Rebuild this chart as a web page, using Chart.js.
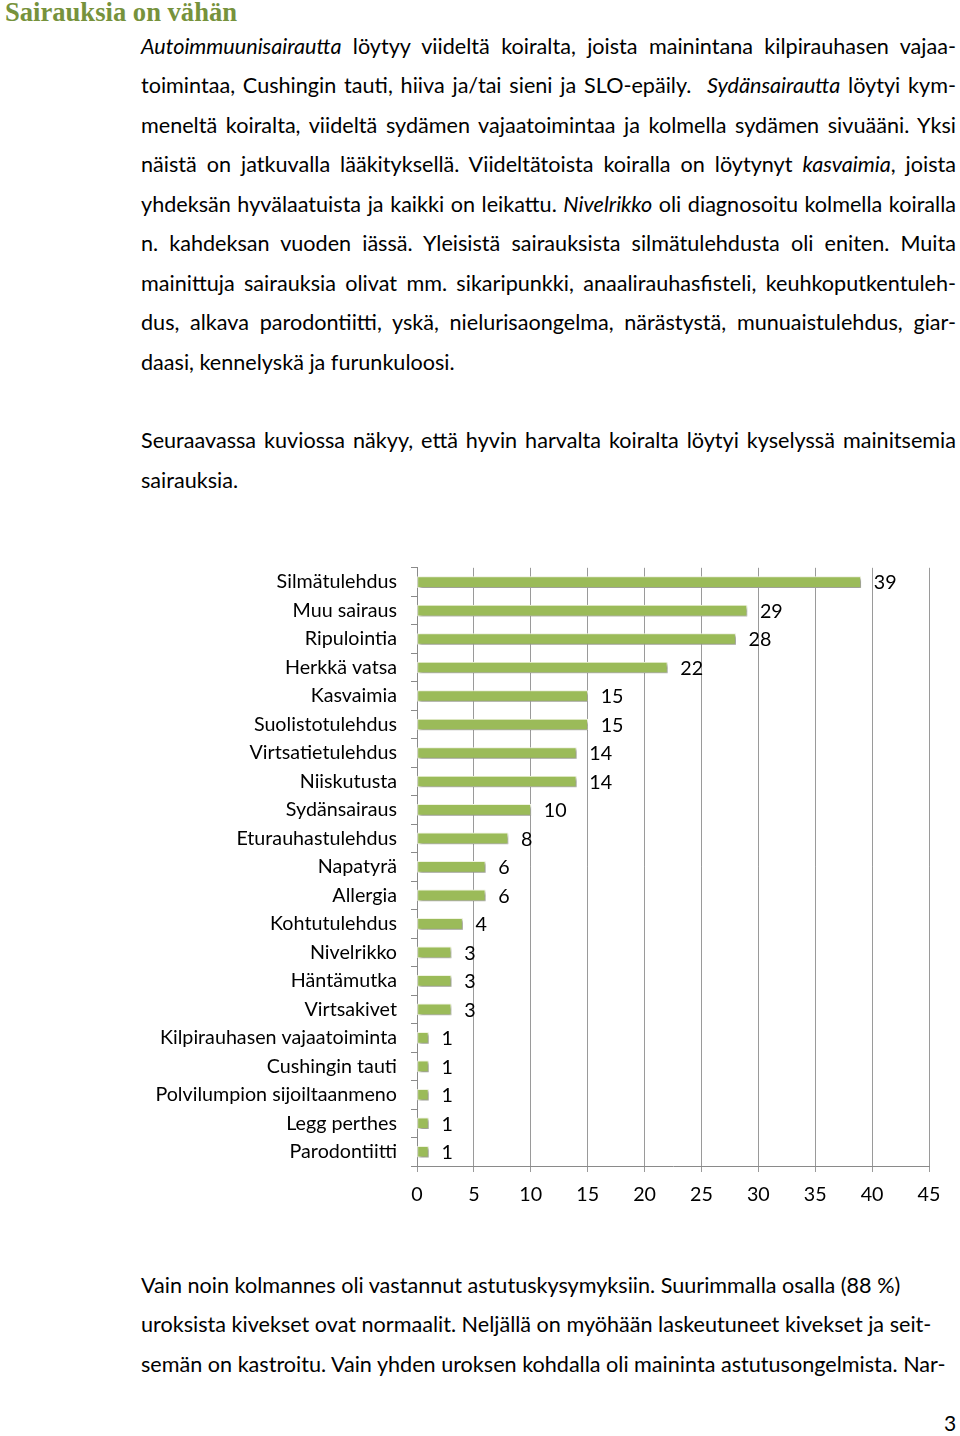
<!DOCTYPE html>
<html>
<head>
<meta charset="utf-8">
<script src="https://cdn.jsdelivr.net/npm/chart.js@4/dist/chart.umd.min.js"></script>
<style>
  html, body { margin: 0; padding: 0; background: #fff; }
  body { width: 960px; height: 1436px; position: relative; overflow: hidden; font-family: Lato, "Open Sans", sans-serif; color: #000; }
  h1 { position: absolute; left: 5px; top: -3px; margin: 0; font: bold 26.6px "Liberation Serif", serif; color: #76923c; }
  .ln { position: absolute; left: 141px; width: 815px; font-size: 21.6px; line-height: 40px; text-align: justify; text-align-last: justify; white-space: nowrap; }
  .end { text-align-last: left; }
  .rag { text-align: left; text-align-last: left; }
  #wrap { position: absolute; left: 0; top: 542px; width: 960px; height: 669px; }
  #page { position: absolute; left: 944px; top: 1410px; font-size: 21px; }
</style>
</head>
<body>
<h1>Sairauksia on vähän</h1>

<div class="ln" style="top:26px"><i>Autoimmuunisairautta</i> löytyy viideltä koiralta, joista mainintana kilpirauhasen vajaa-</div>
<div class="ln" style="top:65px">toimintaa, Cushingin tauti, hiiva ja/tai sieni ja SLO-epäily.&nbsp; <i>Sydänsairautta</i> löytyi kym-</div>
<div class="ln" style="top:105px">meneltä koiralta, viideltä sydämen vajaatoimintaa ja kolmella sydämen sivuääni. Yksi</div>
<div class="ln" style="top:144px">näistä on jatkuvalla lääkityksellä. Viideltätoista koiralla on löytynyt <i>kasvaimia</i>, joista</div>
<div class="ln" style="top:184px">yhdeksän hyvälaatuista ja kaikki on leikattu. <i>Nivelrikko</i> oli diagnosoitu kolmella koiralla</div>
<div class="ln" style="top:223px">n. kahdeksan vuoden iässä. Yleisistä sairauksista silmätulehdusta oli eniten. Muita</div>
<div class="ln" style="top:263px">mainittuja sairauksia olivat mm. sikaripunkki, anaalirauhasfisteli, keuhkoputkentuleh-</div>
<div class="ln" style="top:302px">dus, alkava parodontiitti, yskä, nielurisaongelma, närästystä, munuaistulehdus, giar-</div>
<div class="ln end" style="top:342px">daasi, kennelyskä ja furunkuloosi.</div>

<div class="ln" style="top:420px">Seuraavassa kuviossa näkyy, että hyvin harvalta koiralta löytyi kyselyssä mainitsemia</div>
<div class="ln end" style="top:460px">sairauksia.</div>

<div id="wrap"><canvas id="chart" width="960" height="669"></canvas></div>

<div class="ln rag" style="top:1265px">Vain noin kolmannes oli vastannut astutuskysymyksiin. Suurimmalla osalla (88 %)</div>
<div class="ln rag" style="top:1304px">uroksista kivekset ovat normaalit. Neljällä on myöhään laskeutuneet kivekset ja seit-</div>
<div class="ln rag" style="top:1344px">semän on kastroitu. Vain yhden uroksen kohdalla oli maininta astutusongelmista. Nar-</div>

<div id="page">3</div>

<script>
const sairaudet = [
  "Silmätulehdus", "Muu sairaus", "Ripulointia", "Herkkä vatsa", "Kasvaimia",
  "Suolistotulehdus", "Virtsatietulehdus", "Niiskutusta", "Sydänsairaus",
  "Eturauhastulehdus", "Napatyrä", "Allergia", "Kohtutulehdus", "Nivelrikko",
  "Häntämutka", "Virtsakivet", "Kilpirauhasen vajaatoiminta", "Cushingin tauti",
  "Polvilumpion sijoiltaanmeno", "Legg perthes", "Parodontiitti"
];
const koiria = [39, 29, 28, 22, 15, 15, 14, 14, 10, 8, 6, 6, 4, 3, 3, 3, 1, 1, 1, 1, 1];
const xMax = 45;
const xStep = 5;

const fontLabel = { family: "Lato", size: 19.7 };

// varjo palkeille + arvot palkkien perään
const barDecor = {
  id: "barDecor",
  beforeDatasetsDraw(chart) {
    const ctx = chart.ctx;
    ctx.save();
    ctx.shadowColor = "rgba(0,0,0,0.4)";
    ctx.shadowOffsetX = 2;
    ctx.shadowOffsetY = 2;
    ctx.shadowBlur = 3;
  },
  afterDatasetsDraw(chart) {
    const ctx = chart.ctx;
    ctx.restore();
    const meta = chart.getDatasetMeta(0);
    ctx.save();
    ctx.font = "19.7px Lato";
    ctx.fillStyle = "#000";
    ctx.textAlign = "left";
    ctx.textBaseline = "middle";
    meta.data.forEach((bar, i) => {
      ctx.fillText(String(koiria[i]), bar.x + 13, bar.y + 1);
    });
    ctx.restore();
  },
};

new Chart(document.getElementById("chart"), {
  type: "bar",
  data: {
    labels: sairaudet,
    datasets: [
      {
        data: koiria,
        backgroundColor: "#9bbb59",
        borderColor: "#f3f7e4",
        borderWidth: 1,
        borderSkipped: false,
        barThickness: 11,
      },
    ],
  },
  options: {
    indexAxis: "y",
    responsive: false,
    animation: false,
    devicePixelRatio: 1,
    layout: { padding: { left: 0, right: 31, top: 0, bottom: 0 } },
    plugins: {
      legend: { display: false },
      tooltip: { enabled: false },
    },
    scales: {
      x: {
        min: 0,
        max: xMax,
        ticks: { stepSize: xStep, color: "#000", font: fontLabel, padding: 11 },
        grid: { color: "#9a9a9a", tickLength: 6, lineWidth: 1 },
        border: { color: "#8a8a8a" },
        afterFit(scale) {
          scale.height = 45;
        },
      },
      y: {
        ticks: { color: "#000", font: fontLabel, padding: 14, autoSkip: false },
        grid: { drawOnChartArea: false, tickLength: 6, color: "#8a8a8a", offset: true },
        border: { color: "#8a8a8a" },
        afterFit(scale) {
          scale.width = 417;
        },
      },
    },
  },
  plugins: [barDecor],
});
</script>
</body>
</html>
